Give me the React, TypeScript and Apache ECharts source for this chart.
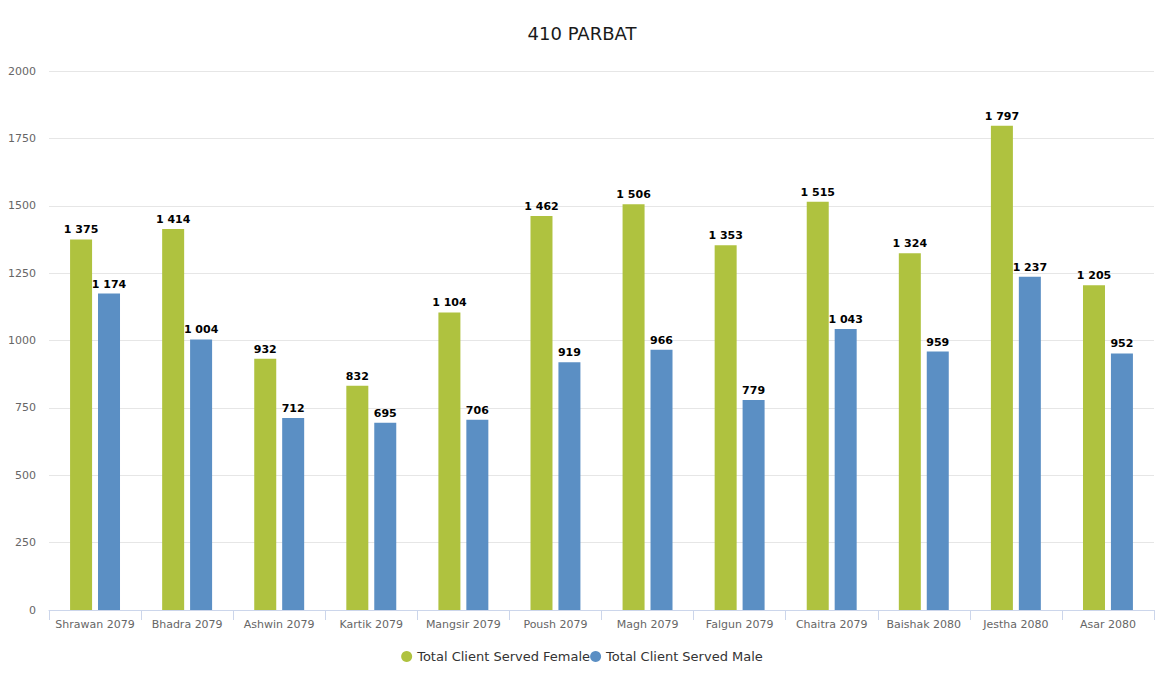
import React, { useEffect, useRef } from "react";
import * as echarts from "echarts";

const categories = [
  "Shrawan 2079", "Bhadra 2079", "Ashwin 2079", "Kartik 2079", "Mangsir 2079", "Poush 2079",
  "Magh 2079", "Falgun 2079", "Chaitra 2079", "Baishak 2080", "Jestha 2080", "Asar 2080",
];
const femaleValues = [1375, 1414, 932, 832, 1104, 1462, 1506, 1353, 1515, 1324, 1797, 1205];
const maleValues = [1174, 1004, 712, 695, 706, 919, 966, 779, 1043, 959, 1237, 952];
const seriesNames = ["Total Client Served Female", "Total Client Served Male"];

const FONT = "DejaVu Sans";
const fmt = (v: number) => String(v).replace(/\B(?=(\d{3})+(?!\d))/g, " ");

export default function App() {
  const ref = useRef<HTMLDivElement>(null);
  useEffect(() => {
    if (!ref.current) return;
    const chart = echarts.init(ref.current, null, { renderer: "svg" });
    const label = {
      show: true,
      position: "top",
      distance: 4,
      formatter: (p: any) => fmt(p.value),
      fontFamily: FONT,
      fontSize: 11,
      fontWeight: "bold",
      color: "#000",
    };
    chart.setOption({
      animation: false,
      textStyle: { fontFamily: FONT },
      title: {
        text: "410 PARBAT",
        left: "center",
        top: 19,
        textStyle: { fontFamily: FONT, fontSize: 18, fontWeight: "normal", color: "#1a1a1a" },
      },
      legend: {
        bottom: 17,
        left: "center",
        icon: "circle",
        itemWidth: 11,
        itemHeight: 11,
        itemGap: 0,
        itemTextGap: 4,
        textStyle: { fontFamily: FONT, fontSize: 13, color: "#333" },
        data: seriesNames,
      },
      grid: { left: 49, right: 10, top: 71, bottom: 75 },
      xAxis: {
        type: "category",
        data: categories,
        axisLine: { lineStyle: { color: "#ccd6eb" } },
        axisTick: { show: true, length: 10, lineStyle: { color: "#ccd6eb" } },
        axisLabel: { fontFamily: FONT, fontSize: 11, color: "#666", margin: 9, interval: 0 },
      },
      yAxis: {
        type: "value",
        min: 0,
        max: 2000,
        interval: 250,
        axisLine: { show: false },
        axisTick: { show: false },
        splitLine: { lineStyle: { color: "#e6e6e6" } },
        axisLabel: {
          fontFamily: FONT,
          fontSize: 11,
          color: "#666",
          margin: 13,
          formatter: (v: number) => String(v),
        },
      },
      series: [
        {
          name: seriesNames[0],
          type: "bar",
          data: femaleValues,
          barWidth: 22,
          barGap: "27%",
          itemStyle: { color: "#afc23f" },
          label,
        },
        {
          name: seriesNames[1],
          type: "bar",
          data: maleValues,
          barWidth: 22,
          barGap: "27%",
          itemStyle: { color: "#5b8fc4" },
          label,
        },
      ],
    });
    return () => chart.dispose();
  }, []);
  return (
    <div
      ref={ref}
      style={{ position: "absolute", left: 0, top: 0, width: 1164, height: 685, background: "#fff" }}
    />
  );
}
